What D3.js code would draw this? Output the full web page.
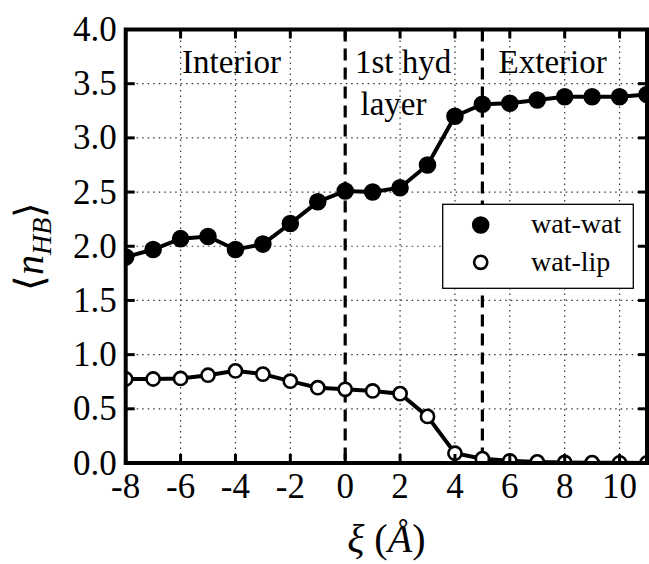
<!DOCTYPE html>
<html>
<head>
<meta charset="utf-8">
<script src="https://cdn.jsdelivr.net/npm/d3@7"></script>
<style>
	body { margin: 0; background: #fff; }
	svg text { font-family: "Liberation Serif", "Times New Roman", serif; fill: #000; }
</style>
</head>
<body>
<svg id="chart"></svg>
<script>
// data
var xi = [-8, -7, -6, -5, -4, -3, -2, -1, 0, 1, 2, 3, 4, 5, 6, 7, 8, 9, 10, 11];
var watWat = [1.90, 1.97, 2.07, 2.09, 1.97, 2.02, 2.21, 2.41, 2.51, 2.50, 2.54, 2.75, 3.20, 3.31, 3.32, 3.35, 3.38, 3.38, 3.38, 3.40];
var watLip = [0.775, 0.775, 0.78, 0.81, 0.85, 0.82, 0.755, 0.695, 0.68, 0.665, 0.64, 0.43, 0.09, 0.04, 0.02, 0.01, 0.005, 0.003, 0.002, 0.001];
var xTicks = [-8, -6, -4, -2, 0, 2, 4, 6, 8, 10];
var yTicks = [0, 0.5, 1, 1.5, 2, 2.5, 3, 3.5, 4];
var regionLines = [0, 5];
var seriesNames = ["wat-wat", "wat-lip"];

var W = 649, H = 564;
var margin = { top: 29.5, right: 2, bottom: 101, left: 125.7 },
	width = W - margin.left - margin.right,
	height = H - margin.top - margin.bottom;

var x = d3.scaleLinear().domain([-8, 11]).range([0, width]),
	y = d3.scaleLinear().domain([0, 4]).range([height, 0]);

var svg = d3.select("#chart")
	.attr("width", W)
	.attr("height", H)
	.attr("font-family", "Liberation Serif, serif")
	.append("g")
	.attr("transform", "translate(" + margin.left + "," + margin.top + ")");

svg.append("defs").append("clipPath")
	.attr("id", "plotclip")
	.append("rect")
	.attr("width", width)
	.attr("height", height);

// dotted grid
svg.append("g").selectAll("line.gx")
	.data(xTicks.filter(function (d) { return d != 0; }))
	.enter().append("line")
	.attr("x1", function (d) { return x(d); })
	.attr("x2", function (d) { return x(d); })
	.attr("y1", 0).attr("y2", height)
	.style("stroke", "#333").style("stroke-width", 1.2).style("stroke-dasharray", "1.5,4");

svg.append("g").selectAll("line.gy")
	.data(yTicks)
	.enter().append("line")
	.attr("x1", 0).attr("x2", width)
	.attr("y1", function (d) { return y(d); })
	.attr("y2", function (d) { return y(d); })
	.style("stroke", "#333").style("stroke-width", 1.2).style("stroke-dasharray", "1.5,4");

// region boundaries
svg.append("g").selectAll("line")
	.data(regionLines)
	.enter().append("line")
	.attr("x1", function (d) { return x(d); })
	.attr("x2", function (d) { return x(d); })
	.attr("y1", 0).attr("y2", height)
	.style("stroke", "#000").style("stroke-width", 3.2).style("stroke-dasharray", "12,7");

// region labels
var labels = svg.append("g").style("font-size", "33px");
labels.append("text").attr("x", 182 - margin.left).attr("y", 73 - margin.top).text("Interior");
labels.append("text").attr("x", 355 - margin.left).attr("y", 73 - margin.top).text("1st hyd");
labels.append("text").attr("x", 360.5 - margin.left).attr("y", 115 - margin.top).text("layer");
labels.append("text").attr("x", 498.6 - margin.left).attr("y", 73 - margin.top).text("Exterior");

// series
var line = d3.line()
	.x(function (d) { return x(d[0]); })
	.y(function (d) { return y(d[1]); });

var plot = svg.append("g").attr("clip-path", "url(#plotclip)");

[watLip, watWat].forEach(function (vals) {
	var pts = xi.map(function (v, i) { return [v, vals[i]]; });
	var filled = vals === watWat;
	plot.append("path")
		.attr("d", line(pts))
		.style("fill", "none")
		.style("stroke", "#000")
		.style("stroke-width", 4);
	plot.selectAll(null)
		.data(pts)
		.enter().append("circle")
		.attr("cx", function (d) { return x(d[0]); })
		.attr("cy", function (d) { return y(d[1]); })
		.attr("r", filled ? 7.5 : 6.6)
		.style("fill", filled ? "#000" : "#fff")
		.style("stroke", "#000")
		.style("stroke-width", 2.6);
});

// spines
svg.append("rect")
	.attr("width", width)
	.attr("height", height)
	.style("fill", "none")
	.style("stroke", "#000")
	.style("stroke-width", 4);

// inward ticks on all sides
var tickLen = 9;
var ticks = svg.append("g").style("stroke", "#000").style("stroke-width", 3);
xTicks.forEach(function (d) {
	ticks.append("line").attr("x1", x(d)).attr("x2", x(d)).attr("y1", height).attr("y2", height - tickLen);
	ticks.append("line").attr("x1", x(d)).attr("x2", x(d)).attr("y1", 0).attr("y2", tickLen);
});
yTicks.forEach(function (d) {
	ticks.append("line").attr("x1", 0).attr("x2", tickLen).attr("y1", y(d)).attr("y2", y(d));
	ticks.append("line").attr("x1", width).attr("x2", width - tickLen).attr("y1", y(d)).attr("y2", y(d));
});

// tick labels
svg.append("g").selectAll("text")
	.data(xTicks)
	.enter().append("text")
	.attr("x", function (d) { return x(d); })
	.attr("y", 498 - margin.top)
	.style("text-anchor", "middle")
	.style("font-size", "35px")
	.text(function (d) { return d; });

svg.append("g").selectAll("text")
	.data(yTicks)
	.enter().append("text")
	.attr("x", -9)
	.attr("y", function (d) { return y(d); })
	.attr("dy", "0.33em")
	.style("text-anchor", "end")
	.style("font-size", "35px")
	.text(function (d) { return d3.format(".1f")(d); });

// axis titles
var xl = svg.append("text")
	.attr("x", width / 2)
	.attr("y", 552 - margin.top)
	.style("text-anchor", "middle")
	.style("font-size", "40px");
xl.append("tspan").style("font-style", "italic").text("ξ");
xl.append("tspan").attr("dx", 10).text("(");
xl.append("tspan").style("font-style", "italic").text("Å");
xl.append("tspan").text(")");

var yl = svg.append("text")
	.attr("transform", "translate(" + (43 - margin.left) + "," + (height / 2) + ") rotate(-90)")
	.style("text-anchor", "middle")
	.style("font-size", "40px");
yl.append("tspan").text("⟨");
yl.append("tspan").style("font-style", "italic").text("n");
yl.append("tspan").style("font-style", "italic").style("font-size", "28px").attr("dy", "8").text("HB");
yl.append("tspan").attr("dy", "-8").text("⟩");

// legend
var lg = svg.append("g").attr("transform", "translate(" + (442.7 - margin.left) + "," + (204.3 - margin.top) + ")");
lg.append("rect")
	.attr("width", 190.6)
	.attr("height", 84)
	.style("fill", "#fff")
	.style("stroke", "#000")
	.style("stroke-width", 1.3);
seriesNames.forEach(function (name, i) {
	var cy = 20.7 + i * 37.3;
	lg.append("circle")
		.attr("cx", 38)
		.attr("cy", cy)
		.attr("r", i == 0 ? 7.5 : 6.6)
		.style("fill", i == 0 ? "#000" : "#fff")
		.style("stroke", "#000")
		.style("stroke-width", 2.6);
	lg.append("text")
		.attr("x", 88.3)
		.attr("y", cy + 8.5)
		.style("font-size", "28px")
		.text(name);
});
</script>
</body>
</html>
